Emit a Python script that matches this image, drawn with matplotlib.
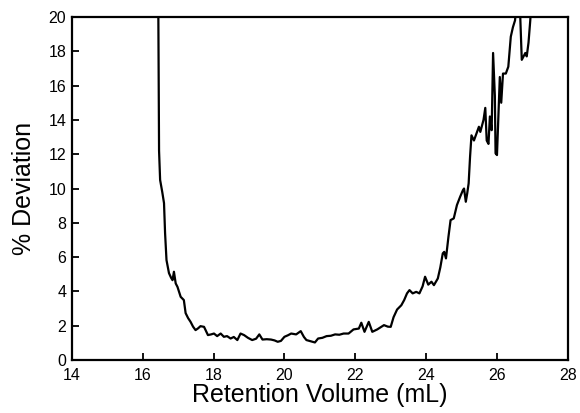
import matplotlib
matplotlib.use("Agg")
import matplotlib.pyplot as plt

plt.rcParams['font.family'] = ['Liberation Sans', 'DejaVu Sans']

# Retention volume (mL) and percent deviation
retention_volume = [
    16.43, 16.44, 16.46, 16.49, 16.55, 16.60, 16.63, 16.67, 16.74, 16.80,
    16.84, 16.88, 16.93, 16.98, 17.03, 17.07, 17.16, 17.21, 17.28, 17.35,
    17.42, 17.49, 17.56, 17.63, 17.73, 17.84, 17.93, 18.01, 18.10, 18.20,
    18.29, 18.38, 18.48, 18.57, 18.67, 18.76, 18.86, 18.97, 19.09, 19.20,
    19.29, 19.38, 19.50, 19.62, 19.72, 19.81, 19.90, 20.00, 20.10, 20.19,
    20.33, 20.46, 20.55, 20.62, 20.74, 20.86, 20.95, 21.07, 21.19, 21.31,
    21.43, 21.55, 21.67, 21.81, 21.95, 22.10, 22.17, 22.26, 22.38, 22.48,
    22.62, 22.81, 22.92, 23.00, 23.08, 23.18, 23.30, 23.38, 23.46, 23.53,
    23.62, 23.72, 23.81, 23.90, 23.97, 24.06, 24.15, 24.22, 24.33, 24.40,
    24.47, 24.51, 24.56, 24.63, 24.69, 24.78, 24.87, 24.96, 25.04, 25.07,
    25.12, 25.16, 25.20, 25.24, 25.28, 25.35, 25.49, 25.53, 25.62, 25.67,
    25.71, 25.76, 25.80, 25.85, 25.89, 25.94, 25.96, 26.00, 26.08, 26.12,
    26.17, 26.25, 26.32, 26.39, 26.45, 26.51, 26.56, 26.64, 26.70, 26.80,
    26.84, 26.89, 26.94, 27.00,
]
percent_deviation = [
    26.0, 20.0, 12.2, 10.5, 9.8, 9.15, 7.4, 5.83, 5.07, 4.8,
    4.66, 5.15, 4.47, 4.27, 3.95, 3.69, 3.5, 2.74, 2.45, 2.23,
    1.95, 1.75, 1.85, 1.98, 1.94, 1.46, 1.5, 1.55, 1.40, 1.55,
    1.36, 1.40, 1.26, 1.35, 1.17, 1.55, 1.46, 1.30, 1.17, 1.25,
    1.50, 1.20, 1.22, 1.20, 1.15, 1.07, 1.12, 1.36, 1.45, 1.55,
    1.50, 1.69, 1.35, 1.17, 1.10, 1.03, 1.26, 1.30, 1.40, 1.42,
    1.50, 1.48, 1.55, 1.55, 1.79, 1.84, 2.18, 1.65, 2.23, 1.65,
    1.79, 2.04, 1.95, 1.94, 2.5, 2.95, 3.2, 3.5, 3.89, 4.08,
    3.89, 3.98, 3.89, 4.3, 4.86, 4.4, 4.57, 4.37, 4.76, 5.4,
    6.22, 6.31, 5.93, 7.19, 8.16, 8.26, 9.04, 9.52, 9.91, 10.0,
    9.23, 9.72, 10.3, 11.85, 13.1, 12.8, 13.6, 13.3, 14.0, 14.7,
    12.8, 12.6, 14.2, 13.4, 17.9, 15.4, 12.05, 11.95, 16.5, 15.0,
    16.7, 16.7, 17.1, 18.85, 19.4, 19.8, 21.0, 21.0, 17.5, 17.9,
    17.7, 18.5, 19.8, 22.0,
]

x_ticks = [14, 16, 18, 20, 22, 24, 26, 28]
y_ticks = [0, 2, 4, 6, 8, 10, 12, 14, 16, 18, 20]

fig = plt.figure(figsize=(5.8, 4.13), dpi=100)
ax = fig.add_axes([0.124, 0.128, 0.855, 0.831])

ax.plot(retention_volume, percent_deviation, color='black', linewidth=1.6)

ax.set_xlim(14, 28)
ax.set_ylim(0, 20)
ax.set_xticks(x_ticks)
ax.set_yticks(y_ticks)
ax.tick_params(direction='in', length=5, width=1.3, labelsize=11.5,
               top=False, right=False, colors='black')
ax.tick_params(axis='x', pad=6)
ax.tick_params(axis='y', pad=4)

for spine in ax.spines.values():
    spine.set_linewidth(1.6)
    spine.set_color('black')

ax.set_xlabel('Retention Volume (mL)', fontsize=18, labelpad=0)
ax.set_ylabel('% Deviation', fontsize=18, labelpad=9)

fig.savefig('out.png', dpi=100)
